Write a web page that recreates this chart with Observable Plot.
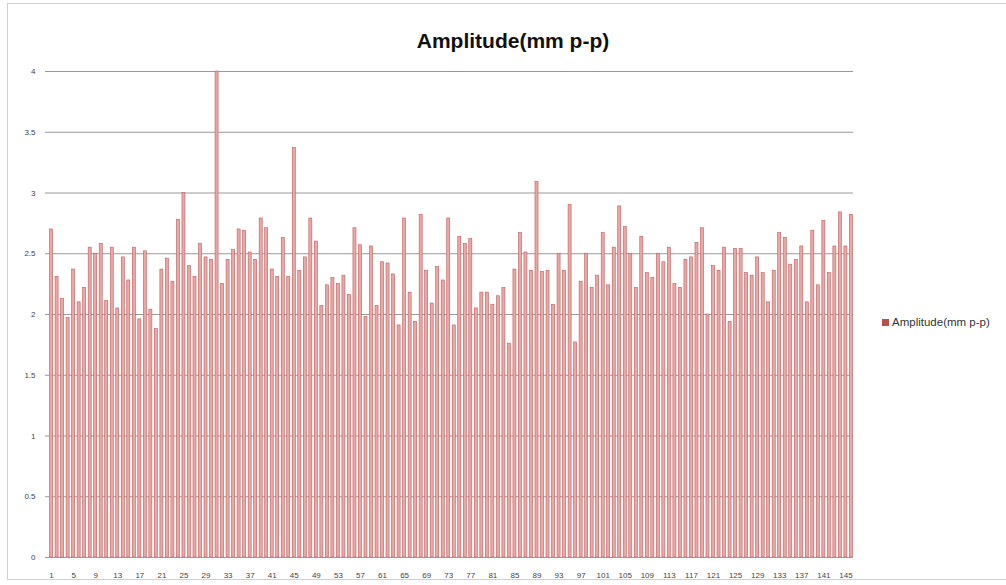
<!DOCTYPE html>
<html>
<head>
<meta charset="utf-8">
<script src="https://cdn.jsdelivr.net/npm/d3@7"></script>
<script src="https://cdn.jsdelivr.net/npm/@observablehq/plot@0.6"></script>
<style>
  html, body { margin: 0; padding: 0; background: #fff; }
  #wrap { position: relative; width: 1006px; height: 585px; overflow: hidden; font-family: "Liberation Sans", "DejaVu Sans", sans-serif; }
  #frame { position: absolute; left: 7px; top: 3px; width: 1010px; height: 577px; border: 1px solid #cfcfcf; box-sizing: border-box; pointer-events: none; }
  #title { position: absolute; left: 0; width: 1026px; top: 29px; text-align: center; font-weight: bold; font-size: 21px; color: #111; }
  #legend { position: absolute; left: 882px; top: 316px; font-size: 11.5px; color: #333; display: flex; align-items: center; gap: 3px; }
  #legend span.sw { display: inline-block; width: 7px; height: 7px; background: #b8504c; }
  #chart { position: absolute; left: 0; top: 0; }
</style>
</head>
<body>
<div id="wrap">
  <div id="chart"></div>
  <div id="frame"></div>
  <div id="title">Amplitude(mm p-p)</div>
  <div id="legend"><span class="sw"></span><span id="legendText"></span></div>
</div>
<script>
const seriesName = "Amplitude(mm p-p)";
const categories = d3.range(1, 147);
const amplitude = [
  2.70, 2.31, 2.13, 1.97, 2.37, 2.10, 2.22, 2.55, 2.50, 2.58,
  2.11, 2.55, 2.05, 2.47, 2.28, 2.55, 1.96, 2.52, 2.04, 1.88,
  2.37, 2.46, 2.27, 2.78, 3.00, 2.40, 2.31, 2.58, 2.47, 2.45,
  4.00, 2.25, 2.45, 2.53, 2.70, 2.69, 2.51, 2.45, 2.79, 2.71,
  2.37, 2.31, 2.63, 2.31, 3.37, 2.36, 2.47, 2.79, 2.60, 2.07,
  2.24, 2.30, 2.25, 2.32, 2.16, 2.71, 2.57, 1.98, 2.56, 2.07,
  2.43, 2.42, 2.33, 1.91, 2.79, 2.18, 1.94, 2.82, 2.36, 2.09,
  2.39, 2.28, 2.79, 1.91, 2.64, 2.58, 2.62, 2.05, 2.18, 2.18,
  2.08, 2.15, 2.22, 1.76, 2.37, 2.67, 2.51, 2.36, 3.09, 2.35,
  2.36, 2.08, 2.50, 2.36, 2.90, 1.77, 2.27, 2.50, 2.22, 2.32,
  2.67, 2.24, 2.55, 2.89, 2.72, 2.50, 2.22, 2.64, 2.34, 2.30,
  2.50, 2.43, 2.55, 2.25, 2.22, 2.45, 2.47, 2.59, 2.71, 2.00,
  2.40, 2.36, 2.55, 1.94, 2.54, 2.54, 2.34, 2.32, 2.47, 2.34,
  2.10, 2.36, 2.67, 2.63, 2.41, 2.45, 2.56, 2.10, 2.69, 2.24,
  2.77, 2.34, 2.56, 2.84, 2.56, 2.82
];
const yTicks = [0, 0.5, 1, 1.5, 2, 2.5, 3, 3.5, 4];
const xTickLabels = categories.filter(c => (c - 1) % 4 === 0);

document.getElementById("legendText").textContent = seriesName;

const data = categories.map((c, i) => ({cat: c, value: amplitude[i]}));

const chart = Plot.plot({
  width: 1006,
  height: 585,
  marginLeft: 49,
  marginRight: 153,
  marginTop: 71,
  marginBottom: 28,
  style: { fontFamily: "Liberation Sans, DejaVu Sans, sans-serif", fontSize: "8px", color: "#444", background: "transparent" },
  x: { type: "band", domain: categories, paddingInner: 0.45, paddingOuter: 0.1, label: null },
  y: { domain: [0, 4], label: null },
  marks: [
    Plot.ruleY(yTicks, { stroke: "#9a9a9a", strokeWidth: 1 }),
    Plot.barY(data, { x: "cat", y: "value", fill: "#eba7a6", stroke: "#bd5f5c", strokeWidth: 0.6 }),
    Plot.ruleX([0], { stroke: "#9a9a9a" }),
    Plot.axisY({ ticks: yTicks, tickSize: 4, tickPadding: 10, stroke: "#9a9a9a", fill: "#444", tickFormat: d => String(d), fontSize: 8 }),
    Plot.axisX({ ticks: xTickLabels, tickSize: 0, tickPadding: 15, fill: "#444", fontSize: 8 }),
    Plot.ruleY([0], { stroke: "#9a9a9a" })
  ]
});
document.getElementById("chart").appendChild(chart);
</script>
</body>
</html>
